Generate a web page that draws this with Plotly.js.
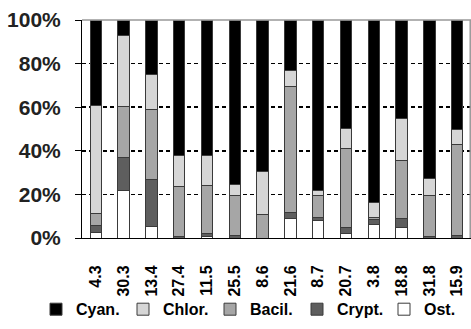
<!DOCTYPE html>
<html>
<head>
<meta charset="utf-8">
<script src="https://cdn.plot.ly/plotly-3.0.1.min.js"></script>
<style>html,body{margin:0;padding:0;background:#fff;}#chart{width:471px;height:329px;}</style>
</head>
<body>
<div id="chart"></div>
<script>
const categories = ['4.3','30.3','13.4','27.4','11.5','25.5','8.6','21.6','8.7','20.7','3.8','18.8','31.8','15.9'];
const ost   = [2.5, 21.6, 5.1, 0,   0.5, 0,   0,    8.9,  8.1,  2.0,  6.3,  4.6,  0,    0];
const crypt = [3.3, 15.2, 21.9, 0.5, 1.5, 1.0, 0,    2.6,  1.2,  2.6,  2.3,  4.3,  0.9,  1.2];
const bacil = [5.4, 23.4, 32.0, 22.9, 22.2, 18.6, 10.7, 58.2, 10.3, 36.4, 1.0,  26.8, 18.7, 41.8];
const chlor = [49.6, 32.9, 16.2, 14.3, 13.8, 4.9, 19.6, 7.0,  2.3,  9.2,  6.9,  19.1, 7.7,  6.8];
const cyan  = [39.2, 6.9, 24.8, 62.3, 62.0, 75.5, 69.7, 23.3, 78.1, 49.8, 83.5, 45.2, 72.7, 50.2];
const yTicks = [0, 20, 40, 60, 80, 100];
const yTickText = yTicks.map(v => v + '%');

const FONT = 'Liberation Sans, Arial, Helvetica, sans-serif';
function bar(name, y, color) {
  return {type: 'bar', name: name, x: categories, y: y,
    marker: {color: color, line: {color: '#3a3a3a', width: 1}}};
}
const data = [
  bar('Ost.', ost, '#ffffff'),
  bar('Crypt.', crypt, '#5e5e5e'),
  bar('Bacil.', bacil, '#a6a6a6'),
  bar('Chlor.', chlor, '#d6d6d6'),
  bar('Cyan.', cyan, '#000000')
];
const layout = {
  width: 471, height: 329,
  margin: {l: 82, r: 0, t: 20, b: 91},
  paper_bgcolor: '#fff', plot_bgcolor: '#fff',
  barmode: 'stack', bargap: 0.59,
  showlegend: true,
  legend: {orientation: 'h', traceorder: 'reversed',
    x: -0.075, xanchor: 'left', y: -0.405, yanchor: 'bottom',
    font: {family: FONT, size: 16, weight: 'bold', color: '#000'}, itemwidth: 30, bgcolor: 'rgba(0,0,0,0)',
    entrywidth: 42, entrywidthmode: 'pixels'},
  xaxis: {type: 'category', automargin: false, showline: true, linecolor: '#000', linewidth: 1, ticks: '',
    tickangle: -90, ticklabelstandoff: 20, showgrid: false,
    tickfont: {family: FONT, size: 16, weight: 'bold', color: '#000'}},
  yaxis: {range: [0, 100], automargin: false, tickmode: 'array', tickvals: yTicks, ticktext: yTickText,
    ticks: 'outside', ticklen: 6, tickcolor: '#000',
    showline: true, linecolor: '#000', linewidth: 1, zeroline: false,
    showgrid: true, gridcolor: '#000', griddash: '4px,3px', gridwidth: 1.5, ticklabelstandoff: 10,
    tickfont: {family: FONT, size: 21, weight: 'bold', color: '#222'}},
  shapes: [
    {type: 'line', xref: 'paper', yref: 'paper', x0: 0, x1: 1, y0: 1, y1: 1, line: {color: '#999', width: 1.5}, layer: 'above'},
    {type: 'line', xref: 'paper', yref: 'paper', x0: 0.998, x1: 0.998, y0: 0, y1: 1, line: {color: '#999', width: 1.5}, layer: 'above'}
  ]
};
Plotly.newPlot('chart', data, layout, {displayModeBar: false, staticPlot: true});
</script>
</body>
</html>
